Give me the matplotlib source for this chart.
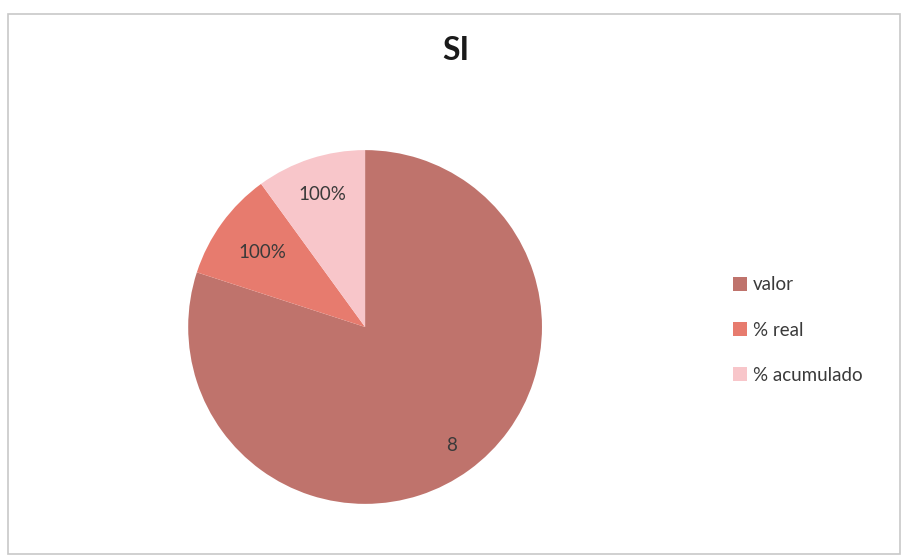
import numpy as np
import matplotlib
matplotlib.use("Agg")
import matplotlib.pyplot as plt
from matplotlib.patches import Rectangle

plt.rcParams['font.family'] = ['Lato', 'DejaVu Sans']

# data
categories = ["valor", "% real", "% acumulado"]
values = [8, 1, 1]
value_labels = ["8", "100%", "100%"]
colors = ["#bf736c", "#e77b6e", "#f8c6ca"]
label_radius = [0.83, 0.72, 0.79]

fig = plt.figure(figsize=(9.02, 5.58), dpi=100)

# chart frame
fig.patches.append(Rectangle((8 / 902, 4 / 558), 892 / 902, 540 / 558,
                             transform=fig.transFigure, fill=False,
                             edgecolor="#c8c8c8", linewidth=1.2))

ax = fig.add_axes([0.2085, 0.097, 0.3925, 0.634])
wedges, _ = ax.pie(values, colors=colors, startangle=90, counterclock=False,
                   wedgeprops=dict(linewidth=0))
ax.set_xlim(-1, 1)
ax.set_ylim(-1, 1)
ax.set_aspect("equal")

# data labels at wedge mid-angles
for w, txt, r in zip(wedges, value_labels, label_radius):
    ang = np.deg2rad((w.theta1 + w.theta2) / 2)
    ax.text(r * np.cos(ang), r * np.sin(ang), txt, ha="center", va="center",
            fontsize=13.5, color="#3a3a3a")

fig.text(456 / 902, 1 - 50 / 558, "SI", ha="center", va="center",
         fontsize=23, fontweight="bold", color="#1a1a1a")

fig.legend(wedges, categories, loc="center left",
           bbox_to_anchor=(716 / 902, 1 - 330 / 558), frameon=False,
           fontsize=13.5, handlelength=0.75, handleheight=0.75,
           handletextpad=0.3, labelspacing=1.5, labelcolor="#3a3a3a")

fig.savefig("out.png", dpi=100)
